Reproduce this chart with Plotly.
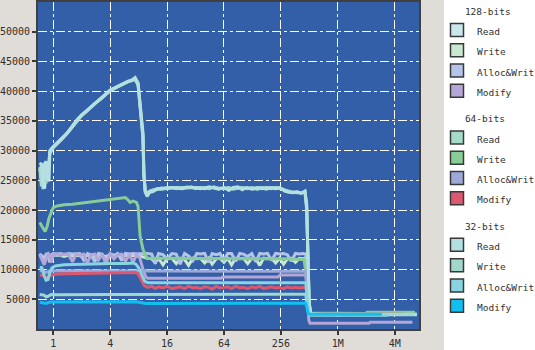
import math
import plotly.graph_objects as go

# ---------------- data (x in K elements, y in MB/s) ----------------
X_TICKS = [1, 4, 16, 64, 256, 1024, 4096]
X_TICK_LABELS = ["1", "4", "16", "64", "256", "1M", "4M"]
Y_TICKS = [5000, 10000, 15000, 20000, 25000, 30000, 35000, 40000, 45000, 50000]
Y_TICK_LABELS = ["5000", "10000", "15000", "20000", "25000", "30000", "35000", "40000",
                 "45000", "50000"]

GROUPS = ["128-bits", "64-bits", "32-bits"]
OPS = ["Read", "Write", "Alloc&Writ", "Modify"]

READ_PRE_X = [0.72, 0.75, 0.78, 0.81, 0.84, 0.87, 0.9, 0.92, 1.0, 1.1, 1.25, 1.41, 1.6, 1.8,
              2.0, 2.25, 2.5, 2.8, 3.2, 3.6, 4.0, 4.5, 5.0, 5.6, 6.2, 6.8, 7.35,
              7.9, 8.3, 8.9, 9.1, 9.4, 9.85]
READ_MID_X = [10.5, 11.4, 12.5, 14, 16, 18, 20, 23, 26, 29, 32, 36, 40, 45, 50, 56, 64, 72,
              80, 90, 100, 112, 128, 144, 160, 180, 200, 225, 250, 280, 310, 340, 380, 420, 460,
              480, 495, 510, 530, 700, 1500, 3000, 7000]

R32_PRE = [27600, 27900, 23500, 27800, 28200, 25000, 27500, 30000, 30700, 31300, 32200, 33000,
           34200, 35300, 36000, 36700, 37400, 38100, 38800, 39500, 40200, 40600, 41000, 41400,
           41700, 41900, 42300, 41400, 37400, 33000, 26300, 23000, 22300]
R32_MID = [23000, 23100, 23500, 23600, 23800, 23700, 23800, 23700, 23900, 23800, 23800, 23600,
           23800, 23900, 23700, 23500, 23800, 23300, 23800, 23900, 23400, 23800, 23600, 23800,
           23700, 23500, 23800, 23700, 23800, 23200, 23000, 22900, 23000, 22800, 23200,
           21000, 12000, 4500, 2600, 2450, 2400, 2400, 2400]
R64_PRE = [27200, 24000, 27500, 26000, 24500, 27600, 28000, 29800, 30600, 31200, 32100, 33000,
           34100, 35200, 36000, 36600, 37300, 38000, 38700, 39400, 40100, 40500, 40900, 41300,
           41600, 41800, 42100, 41200, 37000, 32500, 26000, 23200, 22600]
R64_MID = [23100, 23300, 23600, 23500, 23700, 23800, 23600, 23800, 23700, 23900, 23600, 23800,
           23700, 23600, 23900, 23700, 23600, 23800, 23500, 23700, 23800, 23600, 23800, 23500,
           23800, 23700, 23600, 23800, 23600, 23300, 23100, 23000, 22900, 23000, 23000,
           20000, 11000, 4000, 2600, 2500, 2500, 2500, 2500]
R128_PRE = [26500, 27500, 26000, 23600, 27000, 28000, 24800, 29500, 30500, 31100, 32000, 32900,
            34000, 35100, 35900, 36600, 37300, 38000, 38700, 39400, 40100, 40500, 40900, 41300,
            41600, 41800, 42000, 41000, 36800, 32000, 25800, 23300, 22800]
R128_MID = [23200, 23400, 23500, 23700, 23600, 23800, 23700, 23600, 23800, 23700, 23700, 23800,
            23600, 23800, 23800, 23600, 23700, 23700, 23600, 23800, 23700, 23700, 23500, 23700,
            23600, 23800, 23700, 23600, 23700, 23400, 23100, 23000, 23100, 22900, 23100,
            20500, 11500, 4200, 2600, 2500, 2500, 2500, 2500]

NOISY_PRE_X = [0.72, 0.76, 0.8, 0.84, 0.88, 0.92, 0.96, 1.0, 1.1, 1.2, 1.3, 1.45, 1.6, 1.75, 1.9,
               2.1, 2.3, 2.5, 2.75, 3.0, 3.3, 3.6, 4.0, 4.4, 4.8, 5.3, 5.8, 6.4, 7.0, 7.6, 8.2, 9.0]
MID_X = [10, 11, 12, 13, 14.5, 16, 18, 20, 22, 24.5, 27, 30, 33, 36, 40, 44, 48, 53, 58, 64, 70,
         77, 85, 94, 103, 114, 126, 139, 153, 168, 185, 204, 225, 248, 273, 300, 330, 365, 400,
         440, 470]

A128_PRE = [12700, 12100, 11000, 12600, 12700, 11200, 12500, 12700, 12600, 12700, 12500, 12700,
            12600, 12700, 12700, 11600, 12700, 12500, 11300, 12700, 12600, 11700, 12700, 12400,
            12700, 11500, 12700, 12600, 12700, 12600, 12700, 12700]
A128_MID = [12700, 12600, 11000, 12700, 12500, 11800, 12700, 12600, 10900, 12700, 12300, 11500,
            12700, 12600, 12700, 11200, 12700, 12500, 12700, 11600, 12700, 12700, 11400, 12700,
            12600, 12200, 12700, 11300, 12700, 12600, 12700, 11500, 12700, 12600, 12700, 12500,
            11400, 12700, 12600, 12700, 12600]
A128_END_X = [485, 500, 520, 545, 6000]
A128_END = [9000, 4000, 2700, 2550, 2550]

W128_PRE = [12400, 12300, 11800, 12400, 12300, 12000, 12400, 12400, 12300, 12400, 12200, 12400,
            12300, 12400, 12300, 12200, 12400, 12300, 12200, 12400, 12300, 12200, 12400, 12300,
            12400, 12300, 12400, 12300, 12400, 12300, 12300, 12100]
W128_MID = [11900, 11800, 11200, 11900, 10800, 11800, 11900, 11000, 11900, 11700, 10700, 11900,
            11800, 11900, 11100, 11900, 10900, 11800, 11900, 11200, 11900, 10800, 11900, 11800,
            11900, 11000, 11900, 11800, 10700, 11900, 11800, 11900, 11100, 11900, 10900, 11800,
            11900, 11200, 11900, 11800, 11900]
W128_END_X = [485, 500, 520, 545, 6000]
W128_END = [9000, 4000, 2700, 2600, 2600]

M128_PRE = [12500, 11500, 10800, 11600, 12600, 12400, 11200, 12500, 12600, 12400, 12600, 12500,
            11300, 12600, 12400, 12600, 11100, 12500, 12600, 11600, 12500, 11000, 12600, 11800,
            12500, 12600, 11400, 12500, 11200, 12500, 12000, 9800]
M128_REST_X = [9.6, 10, 60, 62, 240, 250, 470, 485, 505, 520, 2200, 2250, 6300]
M128_REST = [8700, 8550, 8550, 8750, 8750, 9100, 9100, 6000, 1500, 950, 950, 1120, 1120]

W64_X = [0.72, 0.78, 0.82, 0.86, 0.9, 0.95, 1.0, 1.1, 1.3, 1.6, 2.0, 2.5, 3.2, 4.0, 5.0, 5.8,
         6.2, 6.5, 7.0, 7.6, 7.9, 8.3, 8.9, 9.8, 12, 64, 256, 450, 475, 495, 520, 2000, 2100, 6700]
W64_Y = [17900, 17000, 16400, 17200, 18600, 19600, 20400, 20700, 20900, 21000, 21200, 21300,
         21500, 21700, 21900, 22100, 21700, 21300, 21500, 21300, 20600, 15600, 13400, 11900,
         11900, 11900, 11800, 11700, 9000, 4000, 2700, 2600, 2800, 2800]

A64_X = [0.72, 0.8, 0.84, 0.9, 1.0, 7.4, 8.3, 9.4, 10, 470, 485, 505, 525, 5500]
A64_Y = [9800, 9700, 9500, 9700, 9800, 9800, 9750, 9700, 9700, 9700, 7000, 3000, 2500, 2500]

M64_PRE_X = [0.72, 0.78, 0.84, 0.9, 0.96, 1.05, 1.3, 2, 3, 4, 5, 6, 7.3, 7.9, 8.5, 9.2]
M64_PRE = [9100, 9000, 8700, 8800, 9100, 9200, 9300, 9350, 9400, 9450, 9500, 9500, 9500, 9300,
           8200, 7300]
M64_MID = [7000, 7200, 6800, 7100, 6900, 7200, 6800, 7000, 7100, 6800, 7200, 6900, 7000, 6800,
           7100, 7000, 6700, 7200, 6900, 7000, 7100, 6800, 7200, 6900, 7000, 6800, 7100, 6900,
           7200, 6800, 7000, 7100, 6900, 7000, 6800, 7100, 6900, 7000, 6900, 7000, 6900]
M64_END_X = [485, 500, 520, 5000]
M64_END = [6000, 3000, 2500, 2500]

W32_X = [0.72, 0.8, 0.84, 0.88, 0.95, 1.1, 4, 10, 64, 256, 470, 480, 500, 520, 6500]
W32_Y = [5800, 5700, 5400, 5500, 5800, 5750, 5800, 5800, 5800, 5850, 5850, 4500, 2800, 2500, 2500]

A32_X = [0.72, 0.76, 0.8, 0.84, 0.88, 0.92, 0.97, 1.05, 1.3, 2, 3, 4, 6, 7, 7.5, 8.0, 8.7, 9.3,
         10, 470, 480, 500, 520, 3450]
A32_Y = [10400, 10300, 9000, 8200, 8300, 9500, 10300, 10600, 10800, 10900, 11000, 11000, 11000,
         11100, 10900, 10300, 9000, 8000, 7800, 7800, 6000, 3000, 2300, 2300]

M32_X = [0.72, 0.78, 0.84, 0.9, 1.0, 7.5, 8.5, 9.5, 470, 480, 500, 520, 3000]
M32_Y = [4500, 4400, 4300, 4500, 4550, 4600, 4400, 4300, 4350, 3500, 2600, 2500, 2500]

SERIES = {
    ("128-bits", "Read"): (READ_PRE_X + READ_MID_X, R128_PRE + R128_MID),
    ("128-bits", "Write"): (NOISY_PRE_X + MID_X + W128_END_X, W128_PRE + W128_MID + W128_END),
    ("128-bits", "Alloc&Writ"): (NOISY_PRE_X + MID_X + A128_END_X, A128_PRE + A128_MID + A128_END),
    ("128-bits", "Modify"): (NOISY_PRE_X + M128_REST_X, M128_PRE + M128_REST),
    ("64-bits", "Read"): (READ_PRE_X + READ_MID_X, R64_PRE + R64_MID),
    ("64-bits", "Write"): (W64_X, W64_Y),
    ("64-bits", "Alloc&Writ"): (A64_X, A64_Y),
    ("64-bits", "Modify"): (M64_PRE_X + MID_X + M64_END_X, M64_PRE + M64_MID + M64_END),
    ("32-bits", "Read"): (READ_PRE_X + READ_MID_X, R32_PRE + R32_MID),
    ("32-bits", "Write"): (W32_X, W32_Y),
    ("32-bits", "Alloc&Writ"): (A32_X, A32_Y),
    ("32-bits", "Modify"): (M32_X, M32_Y),
}

COLORS = {
    ("128-bits", "Read"): "#c8e8ec",
    ("128-bits", "Write"): "#c8e8d0",
    ("128-bits", "Alloc&Writ"): "#b4c4e8",
    ("128-bits", "Modify"): "#b4a6d6",
    ("64-bits", "Read"): "#a4dcc8",
    ("64-bits", "Write"): "#88cc98",
    ("64-bits", "Alloc&Writ"): "#9ca8d8",
    ("64-bits", "Modify"): "#dc5870",
    ("32-bits", "Read"): "#b4e0e0",
    ("32-bits", "Write"): "#a0d8cc",
    ("32-bits", "Alloc&Writ"): "#88d4e0",
    ("32-bits", "Modify"): "#10c0f0",
}

FONT = "DejaVu Sans Mono"
TXT = "#303030"
SPAN = "<span style='font-size:9.5px'>{}</span>"

fig = go.Figure()
for g in GROUPS:
    for op in OPS:
        xs, ys = SERIES[(g, op)]
        assert len(xs) == len(ys), (g, op, len(xs), len(ys))
        c = COLORS[(g, op)]
        fig.add_trace(go.Scatter(x=xs, y=ys, mode="lines", line=dict(color=c, width=3),
                                 showlegend=False, hoverinfo="skip"))
        fig.add_trace(go.Scatter(x=[None], y=[None], mode="markers", name=SPAN.format(op),
                                 legendgroup=g,
                                 legendgrouptitle=dict(
                                     text=SPAN.format("\u00a0\u00a0\u00a0\u00a0" + g),
                                     font=dict(family=FONT, size=13.3, color=TXT)),
                                 marker=dict(symbol="square", size=13, color=c,
                                             line=dict(color="#383838", width=1.5))))

L, R, T, B = 38, 116, 2, 21
W, H = 535, 350
pw = W - L - R
ph = H - T - B

fig.add_shape(type="rect", xref="paper", yref="paper",
              x0=(444 - L) / pw, x1=(W + 5 - L) / pw, y0=-0.2, y1=1.2,
              fillcolor="white", line=dict(width=0), layer="below")

axis_common = dict(showgrid=True, gridcolor="white", griddash="dashdot", gridwidth=1,
                   ticks="outside", ticklen=4, tickwidth=2, tickcolor="#383838",
                   showline=True, linecolor="#404040", linewidth=2, mirror=True,
                   zeroline=False, automargin=False,
                   tickfont=dict(family=FONT, size=10, color=TXT))

fig.update_layout(
    template="none",
    width=W, height=H,
    margin=dict(l=L, r=R, t=T, b=B, pad=0, autoexpand=False),
    paper_bgcolor="#e0dcd8",
    plot_bgcolor="#335ea8",
    showlegend=True,
    legend=dict(xref="paper", yref="paper", x=(437 - L) / pw, xanchor="left",
                y=1.0 + (T + 5.5) / ph, yanchor="top", maxheight=1.0,
                bgcolor="rgba(0,0,0,0)", borderwidth=0, traceorder="grouped",
                tracegroupgap=6, itemwidth=30,
                font=dict(family=FONT, size=13.3, color=TXT)),
    xaxis=dict(type="log", range=[math.log10(0.69), math.log10(7400)],
               tickvals=X_TICKS, ticktext=X_TICK_LABELS, **axis_common),
    yaxis=dict(range=[0, 55000], tickvals=Y_TICKS, ticktext=Y_TICK_LABELS, **axis_common),
)

fig.write_html("out.html")
